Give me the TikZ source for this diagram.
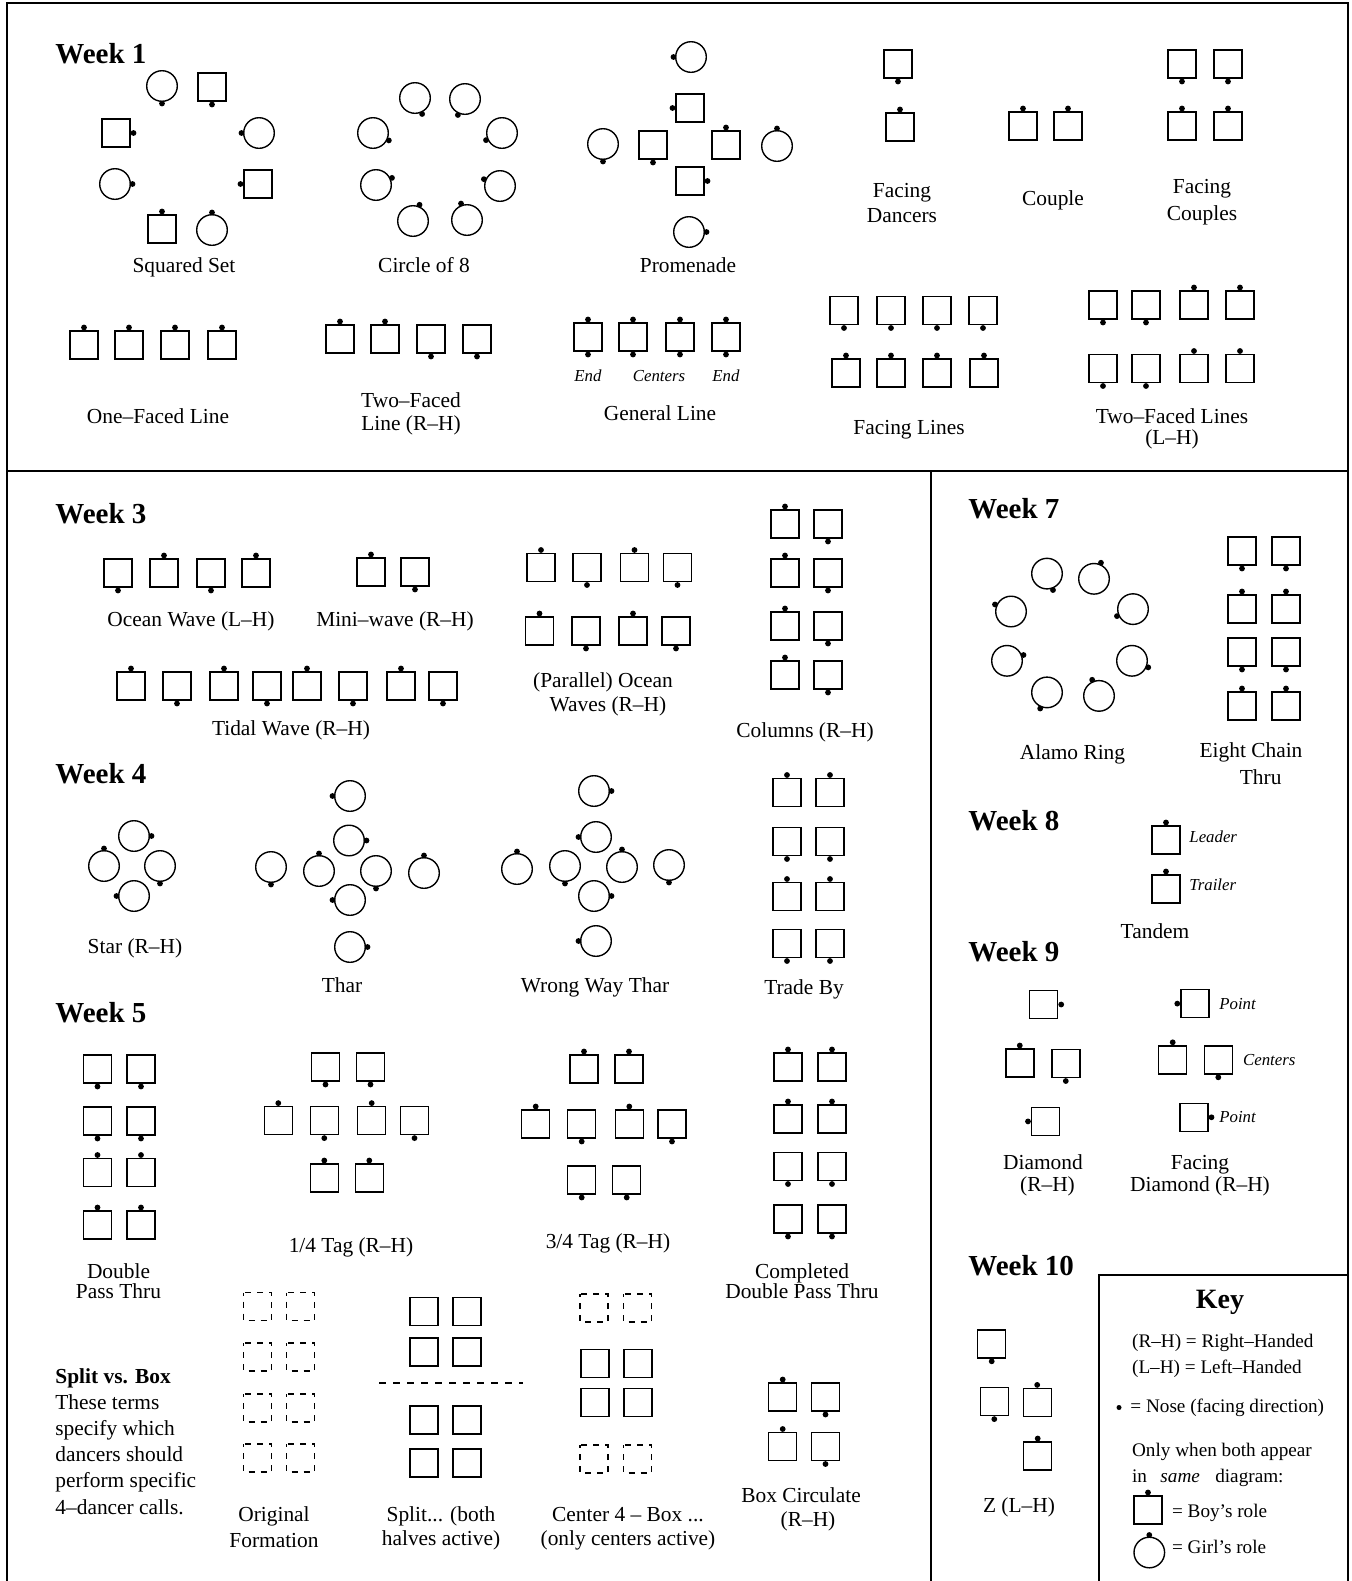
\documentclass[tikz,border=0pt]{standalone}
\usepackage{fontspec}
\setmainfont{Liberation Serif}
\usepackage{tikz}
\newcommand{\nose}[3]{\fill (#1,#2) ++({17.5*cos(#3)},{-17.5*sin(#3)}) circle[radius=2.9];}
\newcommand{\boy}[3]{\draw[dancer] (#1,#2) ++(-14,-14) rectangle ++(28,28); \nose{#1}{#2}{#3}}
\newcommand{\girl}[3]{\draw[dancer] (#1,#2) circle[radius=15.3]; \nose{#1}{#2}{#3}}
\newcommand{\spot}[2]{\draw[dancer] (#1,#2) ++(-14,-14) rectangle ++(28,28);}
\newcommand{\ghost}[2]{\draw[ghostline] (#1,#2) ++(-14,-14) rectangle ++(28,28);}

\begin{document}
\begin{tikzpicture}[x=0.5pt, y=-0.5pt,
  dancer/.style={line width=0.7pt},
  ghostline/.style={line width=0.7pt, dash pattern=on 3pt off 3pt, dash phase=1.5pt},
  frame/.style={line width=0.9pt},
  week/.style={anchor=base west, inner sep=0pt, font=\fontsize{14.5}{17}\selectfont\bfseries},
  lbl/.style={anchor=base, align=center, inner sep=0pt, font=\fontsize{10.7}{12}\selectfont},
  role/.style={anchor=base, inner sep=0pt, font=\fontsize{8.4}{10}\selectfont\itshape},
  keytxt/.style={anchor=base west, inner sep=0pt, font=\fontsize{9.6}{12}\selectfont}]
\useasboundingbox (0,0) rectangle (1351,1581);
\draw[frame] (7,1581) -- (7,3) -- (1348,3) -- (1348,1581);
\draw[frame] (7,471) -- (1348,471);
\draw[frame] (931,471) -- (931,1581);
\draw[frame] (1099,1581) -- (1099,1275) -- (1348,1275);

\node[week] (w1) at (55,63) {Week 1};
\node[week] (w3) at (55,523.5) {Week 3};
\node[week] (w4) at (55,783) {Week 4};
\node[week] (w5) at (55,1022) {Week 5};
\node[week] (w7) at (968,518.5) {Week 7};
\node[week] (w8) at (968,830) {Week 8};
\node[week] (w9) at (968,961) {Week 9};
\node[week] (w10) at (968,1275) {Week 10};

% week 1
\foreach \x/\y/\a in {162/86/270, 259/133/180, 115/184/0, 212/230/90} \girl{\x}{\y}{\a};
\foreach \x/\y/\a in {212/87/270, 116/133/0, 258/184/180, 162/229/90} \boy{\x}{\y}{\a};
\node[lbl] (sqset) at (184,272) {Squared Set};
\foreach \x/\y/\a in {415/98/-66, 465/99/246, 373/133/-25, 502/133/204, 376/185/24, 500/186/157, 413/221/68, 467/220/110} \girl{\x}{\y}{\a};
\node[lbl] (circ) at (424,272) {Circle of 8};
\foreach \x/\y/\a in {691/57/180, 603/144/270, 777/146/90, 689/232/0} \girl{\x}{\y}{\a};
\foreach \x/\y/\a in {690/108/180, 653/145/270, 726/145/90, 690/181/0} \boy{\x}{\y}{\a};
\node[lbl] (prom) at (688,272) {Promenade};
\boy{898}{64}{270} \boy{900}{127}{90}
\node[lbl] (fdan) at (902,222) {Facing\\[0.5pt]Dancers};
\foreach \x in {1023,1068} \boy{\x}{126}{90};
\node[lbl] (cpl) at (1053,205) {Couple};
\foreach \x in {1182,1228} {\boy{\x}{64}{270} \boy{\x}{126}{90}}
\node[lbl] (fcpl) at (1202,220) {Facing\\[1.5pt]Couples};
\foreach \x in {84,129,175,222} \boy{\x}{345}{90};
\node[lbl] (ofl) at (158,423) {One--Faced Line};
\foreach \x/\a in {340/90, 385/90, 431/270, 477/270} \boy{\x}{339}{\a};
\node[lbl] (tfl) at (411,430) {Two--Faced\\[-0.5pt]Line (R--H)};
\foreach \x in {588,633,680,726} {\boy{\x}{337}{90} \nose{\x}{337}{270}}
\node[role] (end1) at (588,381) {End};
\node[role] (ctrs) at (659,381) {Centers};
\node[role] (end2) at (726,381) {End};
\node[lbl] (genl) at (660,420) {General Line};
\foreach \x in {844,891,937,983} \boy{\x}{310.5}{270};
\foreach \x in {846,891,937,984} \boy{\x}{373}{90};
\node[lbl] (fln) at (909,434) {Facing Lines};
\foreach \x/\a in {1103/270, 1146/270, 1194/90, 1240/90} {\boy{\x}{305}{\a} \boy{\x}{368.5}{\a}}
\node[lbl] (tfls) at (1172,444) {Two--Faced Lines\\[-1.5pt](L--H)};

% week 3
\foreach \x/\a in {118/270, 164/90, 211/270, 256/90} \boy{\x}{573}{\a};
\node[lbl] (ocean) at (191,626) {Ocean Wave (L--H)};
\foreach \x/\a in {371/90, 415/270} \boy{\x}{572}{\a};
\node[lbl] (mini) at (395,626) {Mini--wave (R--H)};
\foreach \x/\a in {131/90, 177/270, 224/90, 267/270, 307/90, 353/270, 401/90, 443/270} \boy{\x}{686}{\a};
\node[lbl] (tidal) at (291,735) {Tidal Wave (R--H)};
\foreach \x/\a in {541/90, 587/270, 634.5/90, 677.5/270} \boy{\x}{567.5}{\a};
\foreach \x/\a in {539.5/90, 586/270, 633/90, 676/270} \boy{\x}{631}{\a};
\node[lbl] (pocean) at (603,711) {(Parallel) Ocean\\\hspace*{5pt}Waves (R--H)};
\foreach \y in {524,573,626,675} {\boy{785}{\y}{90} \boy{828}{\y}{270}}
\node[lbl] (cols) at (805,737) {Columns (R--H)};

% week 4
\foreach \x/\y/\a in {134/836/0, 104/866/90, 160/866/270, 134/896/180} \girl{\x}{\y}{\a};
\node[lbl] (star) at (135,953) {Star (R--H)};
\foreach \x/\y/\a in {350/796/180, 349/840.5/0, 319/871/90, 376/871/270, 350/900/180, 350/947/0, 271/867/270, 424/873/90} \girl{\x}{\y}{\a};
\node[lbl] (thar) at (342,992) {Thar};
\foreach \x/\y/\a in {594/791/0, 596/837/180, 565/866/270, 622/867/90, 594/896/0, 596/941/180, 517/869/90, 669/865/270} \girl{\x}{\y}{\a};
\node[lbl] (wwthar) at (595,992) {Wrong Way Thar};
\foreach \y/\a in {792.5/90, 841.5/270, 896.5/90, 943.5/270} {\boy{787}{\y}{\a} \boy{830}{\y}{\a}}
\node[lbl] (trade) at (804,994) {Trade By};

% week 5
\foreach \y/\a in {1069/270, 1121/270, 1172.5/90, 1225/90} {\boy{97.5}{\y}{\a} \boy{141}{\y}{\a}}
\node[lbl] (dpt) at (118.5,1298) {Double\\[-2pt]Pass Thru};
\foreach \x/\y/\a in {325.5/1067/270, 370.5/1067/270, 278.3/1120.6/90, 324.3/1120.6/270, 371.7/1120.6/90, 414.5/1120.6/270, 324.3/1178/90, 369.3/1178/90} \boy{\x}{\y}{\a};
\node[lbl] (qtag) at (351,1252) {1/4 Tag (R--H)};
\foreach \x/\y/\a in {584/1069/90, 629/1069/90, 535.7/1124/90, 581.7/1124/270, 629.3/1124/90, 672/1124/270, 581.7/1180/270, 626.7/1180/270} \boy{\x}{\y}{\a};
\node[lbl] (tqtag) at (608,1248) {3/4 Tag (R--H)};
\foreach \y/\a in {1067/90, 1119/90, 1166.5/270, 1219/270} {\boy{788}{\y}{\a} \boy{832}{\y}{\a}}
\node[lbl] (cdpt) at (802,1298) {Completed\\[-2pt]Double Pass Thru};

\node[anchor=base west, align=left, inner sep=0pt, font=\fontsize{10.7}{13.1}\selectfont] (svb) at (55,1514)
  {\textbf{Split vs. Box}\\These terms\\specify which\\dancers should\\perform specific\\4--dancer calls.};
\foreach \y in {1306.5,1357,1408,1458} {\ghost{257.5}{\y} \ghost{300.5}{\y}}
\node[lbl] (orig) at (274,1547) {Original\\[0.75pt]Formation};
\foreach \y in {1311.5,1352,1420,1463} {\spot{424}{\y} \spot{467}{\y}}
\draw[dancer, dash pattern=on 3.5pt off 3.5pt] (379,1383) -- (523,1383);
\node[lbl] (split) at (441,1545) {Split... (both\\halves active)};
\foreach \x in {594,637.5} {\ghost{\x}{1308} \ghost{\x}{1459}}
\foreach \y in {1363.5,1402.5} {\spot{595}{\y} \spot{638}{\y}}
\node[lbl] (cbox) at (628,1545) {Center 4 -- Box ...\\(only centers active)};
\foreach \y in {1397,1446.5} {\boy{782.7}{\y}{90} \boy{825.5}{\y}{270}}
\node[lbl] (boxc) at (801,1526.5) {Box Circulate\\\hspace*{7pt}(R--H)};

% week 7
\foreach \x/\y/\a in {1047/573.6/-70, 1094/578.8/66.6, 1133/609.1/203.6, 1132/660.8/-22, 1099/695.9/113, 1047/692.4/247, 1007/660.8/19.4, 1011/611.5/156.2} \girl{\x}{\y}{\a};
\node[lbl] (alamo) at (1072.5,759.6) {Alamo Ring};
\foreach \y/\a in {551/270, 609/90, 652/270, 706/90} {\boy{1242}{\y}{\a} \boy{1286}{\y}{\a}}
\node[lbl] (ect) at (1251,784) {Eight Chain\\[1.5pt]\hspace*{9.7pt}Thru};

% week 8
\boy{1166}{840}{90} \boy{1166}{889}{90}
\node[role, anchor=base west] (lead) at (1189,842) {Leader};
\node[role, anchor=base west] (trail) at (1189,890.5) {Trailer};
\node[lbl] (tandem) at (1155,938.5) {Tandem};

% week 9
\foreach \x/\y/\a in {1043.7/1004.5/0, 1019.8/1063/90, 1065.8/1063.5/270, 1045.5/1121.4/180} \boy{\x}{\y}{\a};
\node[lbl] (diam) at (1043,1191) {Diamond\\[-1pt]\hspace*{4.5pt}(R--H)};
\foreach \x/\y/\a in {1194.8/1003.6/180, 1172.7/1059.8/90, 1218.3/1059.8/270, 1194/1117.3/0} \boy{\x}{\y}{\a};
\node[role, anchor=base west] (pt1) at (1219,1009.5) {Point};
\node[role, anchor=base west] (ctr9) at (1242.7,1065.7) {Centers};
\node[role, anchor=base west] (pt2) at (1219,1122.4) {Point};
\node[lbl] (fdiam) at (1200,1191) {Facing\\[-1pt]Diamond (R--H)};

% week 10
\foreach \x/\y/\a in {991.7/1343.8/270, 994.3/1401.6/270, 1037.2/1402.4/90, 1037.7/1456/90} \boy{\x}{\y}{\a};
\node[lbl] (zlh) at (1019,1512) {Z (L--H)};

% key
\node[anchor=base, inner sep=0pt, font=\fontsize{14}{17}\selectfont\bfseries] (key) at (1220,1308.5) {Key};
\node[keytxt] (rh) at (1131.7,1347) {(R--H) = Right--Handed};
\node[keytxt] (lh) at (1131.7,1373) {(L--H) = Left--Handed};
\fill (1119,1407.5) circle[radius=2.5];
\node[keytxt] (nose) at (1130,1412.7) {= Nose (facing direction)};
\node[keytxt] (only) at (1131.7,1456.5) {Only when both appear};
\node[keytxt] (same) at (1131.7,1482) {in\hspace{6.7pt}\textit{same}\hspace{7.7pt}diagram:};
\boy{1148}{1510}{90}
\node[keytxt] (boyr) at (1171.7,1517.5) {= Boy's role};
\girl{1149.3}{1552.5}{90}
\node[keytxt] (girlr) at (1171.7,1553.5) {= Girl's role};
\end{tikzpicture}
\end{document}
